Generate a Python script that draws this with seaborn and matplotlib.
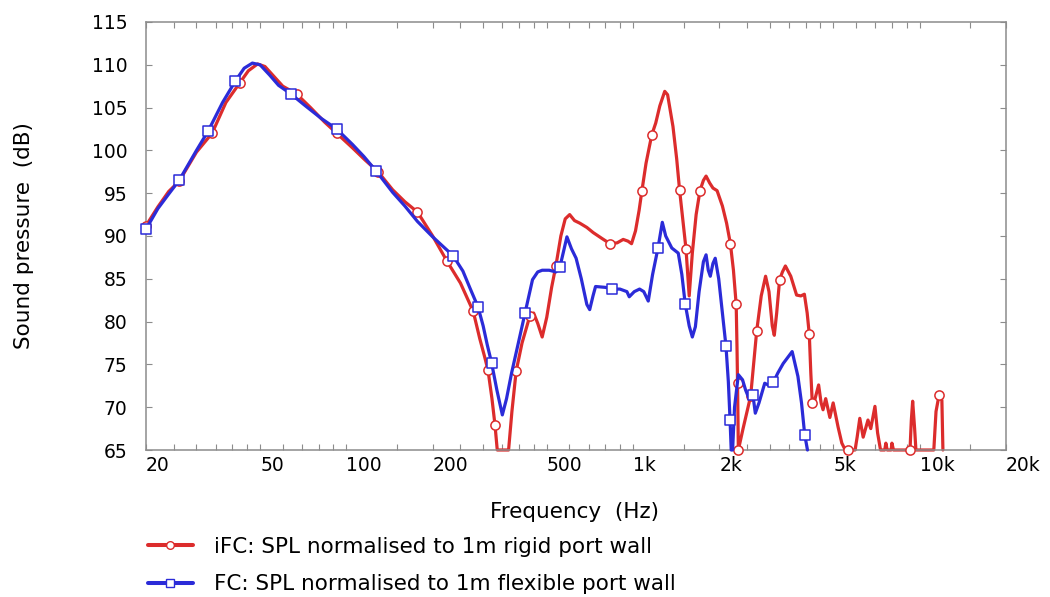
import matplotlib
matplotlib.use("Agg")
import matplotlib.pyplot as plt
import seaborn as sns
from matplotlib.lines import Line2D
from matplotlib.ticker import FixedLocator, NullFormatter

# ---------------- data ----------------
red_freq = [20, 22, 24, 26.1, 30, 34, 38, 42.5, 45.5, 49, 52, 56, 60, 67, 75, 84, 92.5, 105, 116, 129,
            145, 160, 177, 200, 224, 250, 277, 292, 303, 312, 322, 330, 336, 368, 378, 391, 410, 436,
            450, 465, 482, 500, 520, 538, 560, 580, 601, 625, 652, 690, 726, 780, 831, 880, 924, 960,
            988, 1020, 1050, 1074, 1110, 1162, 1200, 1240, 1290, 1320, 1378, 1420, 1453, 1490, 1530,
            1570, 1610, 1660, 1712, 1760, 1798, 1850, 1900, 1964, 2050, 2120, 2186, 2240, 2290, 2305,
            2315, 2330, 2420, 2572, 2700, 2800, 2900, 2980, 3060, 3110, 3170, 3246, 3320, 3400, 3550,
            3720, 3850, 3960, 4050, 4120, 4170, 4220, 4300, 4440, 4530, 4600, 4700, 4860, 4990, 5190,
            5350, 5500, 5620, 5950, 6050, 6180, 6350, 6600, 6750, 6980, 7130, 7300, 7550, 7620, 7700,
            7950, 8000, 8100, 9250, 9350, 9450, 9600, 9700, 11200, 11400, 11680, 11950, 12050]
red_spl = [91.2, 93.4, 95.2, 96.4, 99.8, 102.0, 105.6, 107.9, 109.3, 110.1, 109.8, 108.6, 107.5, 106.6,
           105.0, 103.3, 102.0, 100.3, 98.9, 97.5, 95.4, 94.0, 92.8, 90.0, 87.1, 84.5, 81.2, 78.0, 76.0,
           74.3, 71.0, 67.9, 65.0, 65.0, 69.5, 74.2, 77.5, 80.6, 81.0, 79.8, 78.2, 80.5, 84.0, 86.5,
           90.0, 92.0, 92.5, 91.8, 91.5, 91.0, 90.4, 89.7, 89.1, 89.2, 89.6, 89.4, 89.1, 90.6, 93.0,
           95.3, 98.5, 101.8, 103.2, 105.2, 106.9, 106.5, 102.8, 99.0, 95.4, 92.0, 88.5, 83.0, 88.0,
           92.5, 95.3, 96.5, 97.0, 96.2, 95.6, 95.3, 93.5, 91.5, 89.1, 86.0, 82.0, 77.0, 72.8, 65.0,
           67.5, 71.3, 78.9, 83.0, 85.3, 83.5, 79.5, 78.4, 81.0, 84.9, 85.8, 86.5, 85.3, 83.1, 83.0,
           83.2, 81.0, 78.5, 74.0, 70.5, 70.8, 72.6, 70.5, 69.7, 71.0, 68.8, 70.5, 67.7, 65.8, 65.0,
           65.0, 65.0, 66.5, 68.7, 66.5, 68.5, 67.5, 70.1, 67.0, 65.0, 65.0, 65.8, 65.0, 65.0, 65.8,
           65.0, 65.0, 68.5, 70.7, 67.5, 65.0, 65.0, 69.5, 71.4, 70.8, 65.0]

blue_freq = [20, 22, 24, 26.1, 30, 33, 37, 41, 44, 47, 50, 54, 58, 64, 72, 82, 92.5, 105, 115, 127, 145,
             160, 177, 200, 235.6, 255, 270, 288, 300, 310, 321, 335, 350, 362, 377, 398, 420, 446, 465,
             482, 510, 538, 556, 575, 588, 610, 633, 660, 690, 706, 725, 740, 800, 847, 900, 952, 970,
             1010, 1054, 1090, 1130, 1170, 1222, 1265, 1300, 1365, 1438, 1480, 1520, 1570, 1610, 1650,
             1700, 1760, 1798, 1830, 1860, 1900, 1935, 1990, 2050, 2110, 2150, 2180, 2200, 2225, 2260,
             2330, 2410, 2470, 2540, 2620, 2670, 2750, 2880, 3000, 3090, 3200, 3340, 3590, 3760, 3870,
             3970, 4060]
blue_spl = [90.8, 93.2, 94.9, 96.5, 100.0, 102.3, 105.6, 108.1, 109.6, 110.2, 110.0, 108.8, 107.6, 106.6,
            105.2, 103.7, 102.5, 100.7, 99.3, 97.6, 95.1, 93.5, 91.7, 89.9, 87.7, 85.9, 83.9, 81.7, 79.5,
            77.3, 75.2, 72.0, 69.1, 71.0, 74.0, 77.5, 81.0, 84.9, 85.8, 86.0, 86.0, 85.8, 86.4, 88.5,
            89.9, 88.5, 87.4, 85.0, 82.0, 81.4, 83.0, 84.1, 84.0, 83.8, 83.8, 83.5, 82.9, 83.5, 83.8,
            83.5, 82.4, 85.5, 88.6, 91.6, 90.0, 88.6, 88.0, 85.5, 82.1, 79.5, 78.2, 79.4, 83.5, 87.0,
            87.8, 86.0, 85.3, 86.8, 87.4, 85.0, 81.0, 77.1, 73.0, 68.5, 65.0, 65.0, 70.0, 73.8, 73.2,
            72.0, 71.0, 71.4, 69.3, 70.5, 72.8, 72.5, 72.95, 74.0, 75.1, 76.5, 73.6, 70.5, 66.8, 65.0]

red_mark_freq = [20, 26.1, 34, 42.5, 67, 92.5, 129, 177, 224, 277, 312, 330, 391, 436, 538, 831, 1074,
                 1162, 1453, 1530, 1712, 2186, 2290, 2315, 2330, 2572, 2700, 3246, 4120, 4220, 5620,
                 9250, 11680]
red_mark_spl = [91.2, 96.4, 102.0, 107.9, 106.6, 102.0, 97.5, 92.8, 87.1, 81.2, 74.3, 67.9, 74.2, 80.6,
                86.5, 89.1, 95.3, 101.8, 95.4, 88.5, 95.3, 89.1, 82.0, 72.8, 65.0, 71.3, 78.9, 84.9,
                78.5, 70.5, 65.0, 65.0, 71.4]

blue_mark_freq = [20, 26.1, 33, 41, 64, 92.5, 127, 235.6, 288, 321, 420, 556, 847, 1222, 1520, 2110,
                  2180, 2620, 3090, 3970]
blue_mark_spl = [90.8, 96.5, 102.3, 108.1, 106.6, 102.5, 97.6, 87.7, 81.7, 75.2, 81.0, 86.4, 83.8, 88.6,
                 82.1, 77.1, 68.5, 71.4, 72.95, 66.8]

x_major = [20, 50, 100, 200, 500, 1000, 2000, 5000, 10000, 20000]
x_major_labels = ["20", "50", "100", "200", "500", "1k", "2k", "5k", "10k", "20k"]
x_minor = [25, 30, 35, 40, 45, 60, 70, 80, 90, 150, 250, 300, 350, 400, 450, 600, 700, 800, 900,
           1500, 2500, 3000, 3500, 4000, 4500, 6000, 7000, 8000, 9000, 15000]
y_ticks = [65, 70, 75, 80, 85, 90, 95, 100, 105, 110, 115]

red_label = "iFC: SPL normalised to 1m rigid port wall"
blue_label = "FC: SPL normalised to 1m flexible port wall"

# ---------------- style ----------------
sns.set_theme(style="white")
plt.rcParams['font.family'] = ['DejaVu Sans']
plt.rcParams['text.color'] = 'black'
plt.rcParams['axes.labelcolor'] = 'black'

RED = '#DC2C2C'
BLUE = '#2B2BD8'
GRID = '#8C8C8C'
LW = 2.3
TICK_FS = 13.5
TEXT_FS = 15.5

fig = plt.figure(figsize=(10.5, 5.97), dpi=100)
ax = fig.add_axes([146 / 1050, 1 - 450 / 597, 860 / 1050, 428 / 597])

sns.lineplot(x=red_freq, y=red_spl, ax=ax, color=RED, linewidth=LW, sort=False,
             estimator=None, zorder=2, clip_on=False)
sns.scatterplot(x=red_mark_freq, y=red_mark_spl, ax=ax, marker='o', s=44, facecolor='white',
                edgecolor=RED, linewidth=1.1, zorder=3, clip_on=False)
sns.lineplot(x=blue_freq, y=blue_spl, ax=ax, color=BLUE, linewidth=LW, sort=False,
             estimator=None, zorder=4, clip_on=False)
sns.scatterplot(x=blue_mark_freq, y=blue_mark_spl, ax=ax, marker='s', s=50, facecolor='white',
                edgecolor=BLUE, linewidth=1.1, zorder=5, clip_on=False)

ax.set_xscale('log')
ax.set_xlim(20, 20000)
ax.set_ylim(65, 115)

ax.set_xticks(x_major)
ax.set_xticklabels(x_major_labels)
ax.xaxis.set_minor_locator(FixedLocator(x_minor))
ax.xaxis.set_minor_formatter(NullFormatter())
ax.set_yticks(y_ticks)
ax.set_yticklabels([str(v) for v in y_ticks])

for lbl in ax.get_xticklabels():
    lbl.set_horizontalalignment('left')

ax.tick_params(which='both', direction='in', top=True, right=True, bottom=True, left=True,
               length=4, width=0.8, color=GRID, labelsize=TICK_FS, labelcolor='black')
ax.tick_params(axis='x', which='both', pad=4)
ax.tick_params(axis='y', which='both', pad=13.5)

for sp in ax.spines.values():
    sp.set_color(GRID)
    sp.set_linewidth(1.1)
    sp.set_visible(True)

ax.set_xlabel("Frequency  (Hz)", fontsize=TEXT_FS, color='black')
ax.xaxis.set_label_coords((575 - 146) / 860, (450 - 502) / 428)
ax.set_ylabel("Sound pressure  (dB)", fontsize=TEXT_FS, color='black')
ax.yaxis.set_label_coords((34 - 146) / 860, 0.5)

handles = [
    Line2D([0], [0], color=RED, lw=LW + 0.6, marker='o', ms=5.5, mfc='white', mec=RED, mew=1.0),
    Line2D([0], [0], color=BLUE, lw=LW + 0.6, marker='s', ms=5.5, mfc='white', mec=BLUE, mew=1.0),
]
fig.legend(handles, [red_label, blue_label], loc='upper left',
           bbox_to_anchor=(148 / 1050, 1 - 537 / 597), frameon=False, fontsize=TEXT_FS,
           handlelength=2.08, handletextpad=1.0, labelspacing=0.8, borderpad=0,
           borderaxespad=0, numpoints=1, labelcolor='black')

fig.savefig("out.png", dpi=100)
